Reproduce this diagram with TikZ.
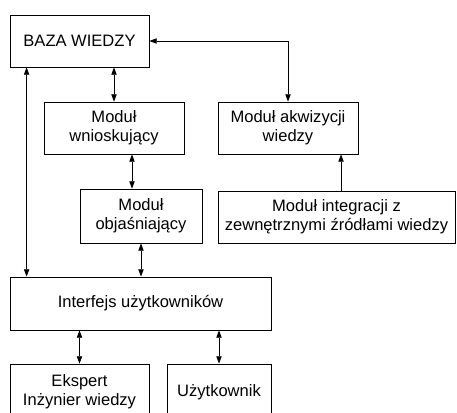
\documentclass[tikz,border=0pt]{standalone}
\usepackage{fontspec}
\setmainfont{Liberation Sans}
\usetikzlibrary{arrows.meta}

\tikzset{Blok/.style = {%
    shape= rectangle,
    draw,
    line width=0.6pt,
    inner sep=0pt,
    align=center,
    minimum height=39pt,
    font=\fontsize{12.4}{14.3}\selectfont}}

\begin{document}
\begin{tikzpicture}[x=0.75pt,y=-0.75pt,>={Triangle[length=5.5pt,width=4pt]}]
    \useasboundingbox (0,0) rectangle (457,412);
    %\draw[help lines] (0,0) grid (457,412);
    \node[Blok,minimum width=104.25pt] (baza) at (79.5,41) {BAZA WIEDZY};
    \node[Blok,minimum width=105pt] (wnio) at (114,128) {Moduł\\wnioskujący};
    \node[Blok,minimum width=105pt] (akw) at (288,128) {Moduł akwizycji\\wiedzy};
    \node[Blok,minimum width=91.5pt,minimum height=40.5pt] (obj) at (141,216) {Moduł\\objaśniający};
    \node[Blok,minimum width=177.75pt] (integr) at (336.5,217) {Moduł integracji z\\zewnętrznymi źródłami wiedzy};
    \node[Blok,minimum width=195.75pt,minimum height=39.75pt] (interf) at (140.5,303.5) {Interfejs użytkowników};
    \node[Blok,minimum width=104.25pt,minimum height=42pt] (eksp) at (79.5,392) {Ekspert\\Inżynier wiedzy};
    \node[Blok,minimum width=78pt,minimum height=42pt] (uzyt) at (219,392) {Użytkownik};
    % polaczenia
    \draw[<->,line width=0.6pt] (wnio.north) -- (wnio.north |- baza.south);
    \draw[<->,line width=0.6pt] ([xshift=12.75pt]baza.south west) -- ([xshift=12.75pt]baza.south west |- interf.north);
    \draw[<->,line width=0.6pt] (baza.east) -| (akw.north);
    \draw[->,line width=0.6pt] ([xshift=3.4pt]integr.north) -- ([xshift=3.4pt]integr.north |- akw.south);
    \draw[<->,line width=0.6pt] ([xshift=-6.75pt]obj.north) -- ([xshift=-6.75pt]obj.north |- wnio.south);
    \draw[<->,line width=0.6pt] (obj.south) -- (obj.south |- interf.north);
    \draw[<->,line width=0.6pt] (eksp.north) -- (eksp.north |- interf.south);
    \draw[<->,line width=0.6pt] (uzyt.north) -- (uzyt.north |- interf.south);
\end{tikzpicture}
\end{document}
